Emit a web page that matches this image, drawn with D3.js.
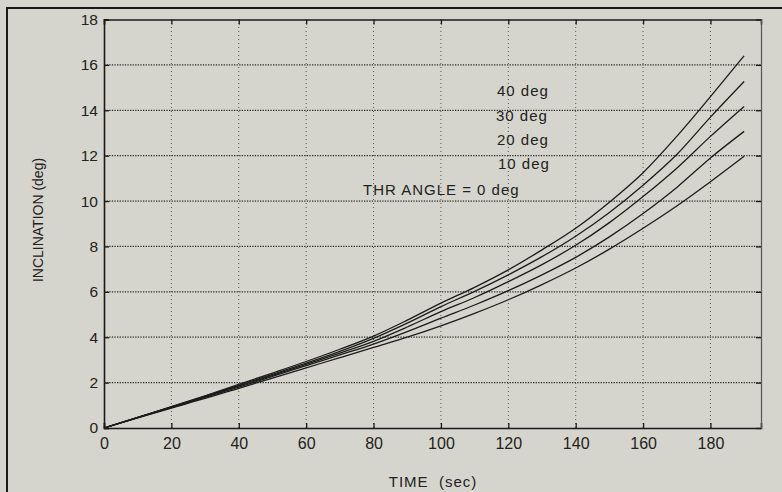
<!DOCTYPE html>
<html>
<head>
<meta charset="utf-8">
<script src="https://cdn.jsdelivr.net/npm/d3@7"></script>
<style>
  body { margin: 0; background: #d5d5cd; }
  svg { display: block; }
  text { font-family: "Liberation Sans", Arial, sans-serif; fill: #222; }
</style>
</head>
<body>
<div id="chart"></div>
<script>
// time in seconds
var time = [0, 10, 20, 30, 40, 50, 60, 70, 80, 90, 100, 110, 120, 130, 140, 150, 160, 170, 180, 190];

// inclination (deg) for each thrust angle
var thr0  = [0, 0.45, 0.88, 1.30, 1.75, 2.20, 2.65, 3.10, 3.55, 4.00, 4.50, 5.05, 5.65, 6.32, 7.05, 7.88, 8.80, 9.78, 10.85, 11.97];
var thr10 = [0, 0.46, 0.90, 1.35, 1.80, 2.27, 2.75, 3.22, 3.70, 4.25, 4.84, 5.42, 6.05, 6.75, 7.52, 8.42, 9.45, 10.60, 11.90, 13.07];
var thr20 = [0, 0.46, 0.92, 1.38, 1.85, 2.32, 2.80, 3.30, 3.82, 4.45, 5.13, 5.75, 6.45, 7.20, 8.05, 9.05, 10.20, 11.45, 12.85, 14.17];
var thr30 = [0, 0.47, 0.93, 1.40, 1.88, 2.36, 2.86, 3.38, 3.95, 4.62, 5.35, 6.02, 6.75, 7.55, 8.45, 9.50, 10.70, 12.05, 13.70, 15.27];
var thr40 = [0, 0.47, 0.94, 1.42, 1.92, 2.42, 2.93, 3.47, 4.05, 4.75, 5.50, 6.20, 6.97, 7.85, 8.80, 9.95, 11.25, 12.85, 14.60, 16.40];

var seriesNames = ["THR ANGLE = 0 deg", "10 deg", "20 deg", "30 deg", "40 deg"];
var seriesValues = [thr0, thr10, thr20, thr30, thr40];

var xTicks = [0, 20, 40, 60, 80, 100, 120, 140, 160, 180];
var yTicks = [0, 2, 4, 6, 8, 10, 12, 14, 16, 18];

var width = 782, height = 492;
var margin = { top: 19.5, right: 21, bottom: 64, left: 104 };

var svg = d3.select("#chart").append("svg")
    .attr("width", width)
    .attr("height", height);

// outer frame (runs off the right and bottom edge)
svg.append("rect")
    .attr("x", 7).attr("y", 8)
    .attr("width", width + 20).attr("height", height + 20)
    .attr("fill", "none")
    .attr("stroke", "#1a1a1a")
    .attr("stroke-width", 2);

var xScale = d3.scaleLinear().domain([0, 195]).range([margin.left, width - margin.right]);
var yScale = d3.scaleLinear().domain([0, 18]).range([height - margin.bottom, margin.top]);

var x0 = xScale.range()[0], x1 = xScale.range()[1];
var y0 = yScale.range()[0], y1 = yScale.range()[1];

// grid
var grid = svg.append("g").attr("class", "grid");
grid.selectAll(".hgrid")
    .data(yTicks.filter(d => d > 0 && d < 18))
  .enter().append("line")
    .attr("class", "hgrid")
    .attr("x1", x0).attr("x2", x1)
    .attr("y1", d => yScale(d)).attr("y2", d => yScale(d))
    .attr("stroke", "#2a2a2a")
    .attr("stroke-width", 1.3)
    .attr("stroke-dasharray", "1.3,1.3");

grid.selectAll(".vgrid")
    .data(xTicks.filter(d => d > 0))
  .enter().append("line")
    .attr("class", "vgrid")
    .attr("x1", d => xScale(d)).attr("x2", d => xScale(d))
    .attr("y1", y0).attr("y2", y1)
    .attr("stroke", "#555")
    .attr("stroke-width", 1)
    .attr("stroke-dasharray", "1,3");

// axes, ticks pointing inward
var fmt = d3.format("d");
var gx = svg.append("g")
    .attr("transform", "translate(0," + y0 + ")")
    .call(d3.axisBottom(xScale).tickValues(xTicks).tickSize(-5).tickPadding(10).tickFormat(fmt));
var gy = svg.append("g")
    .attr("transform", "translate(" + x0 + ",0)")
    .call(d3.axisLeft(yScale).tickValues(yTicks).tickSize(-5).tickPadding(6).tickFormat(fmt));
var gxTop = svg.append("g")
    .attr("transform", "translate(0," + y1 + ")")
    .call(d3.axisTop(xScale).tickValues(xTicks).tickSize(-5).tickFormat(""));
var gyRight = svg.append("g")
    .attr("transform", "translate(" + x1 + ",0)")
    .call(d3.axisRight(yScale).tickValues(yTicks).tickSize(-5).tickFormat(""));

[gx, gy, gxTop, gyRight].forEach(function(g) {
    g.select(".domain").attr("stroke", "#1a1a1a").attr("stroke-width", 1.6);
    g.selectAll(".tick line").attr("stroke", "#1a1a1a").attr("stroke-width", 1.3);
    g.selectAll(".tick text")
        .style("font-size", "16px")
        .attr("fill", "#222");
});
gy.selectAll(".tick text").style("font-size", "15.5px");
gyRight.select(".domain").attr("stroke", "#555").attr("stroke-width", 1.2);

// curves
var line = d3.line()
    .x((d, i) => xScale(time[i]))
    .y(d => yScale(d))
    .curve(d3.curveMonotoneX);

svg.append("g").selectAll(".curve")
    .data(seriesValues)
  .enter().append("path")
    .attr("class", "curve")
    .attr("d", line)
    .attr("fill", "none")
    .attr("stroke", "#1c1c1c")
    .attr("stroke-width", 1.3);

// curve labels
var labelPos = [
    { x: 363, y: 190 },
    { x: 498, y: 164 },
    { x: 497, y: 140 },
    { x: 496, y: 116 },
    { x: 497, y: 91 }
];
svg.append("g").selectAll(".lab")
    .data(seriesNames)
  .enter().append("text")
    .attr("class", "lab")
    .attr("x", (d, i) => labelPos[i].x)
    .attr("y", (d, i) => labelPos[i].y)
    .attr("dy", "0.35em")
    .style("font-size", "15px")
    .style("letter-spacing", "1px")
    .text(d => d);

// axis titles
svg.append("text")
    .attr("x", 433).attr("y", 482)
    .attr("dy", "0.35em")
    .attr("text-anchor", "middle")
    .style("font-size", "15px")
    .style("letter-spacing", "1px")
    .style("white-space", "pre")
    .text("TIME  (sec)");

svg.append("text")
    .attr("transform", "translate(38,220) rotate(-90)")
    .attr("dy", "0.35em")
    .attr("text-anchor", "middle")
    .style("font-size", "14px")
    .text("INCLINATION (deg)");
</script>
</body>
</html>
